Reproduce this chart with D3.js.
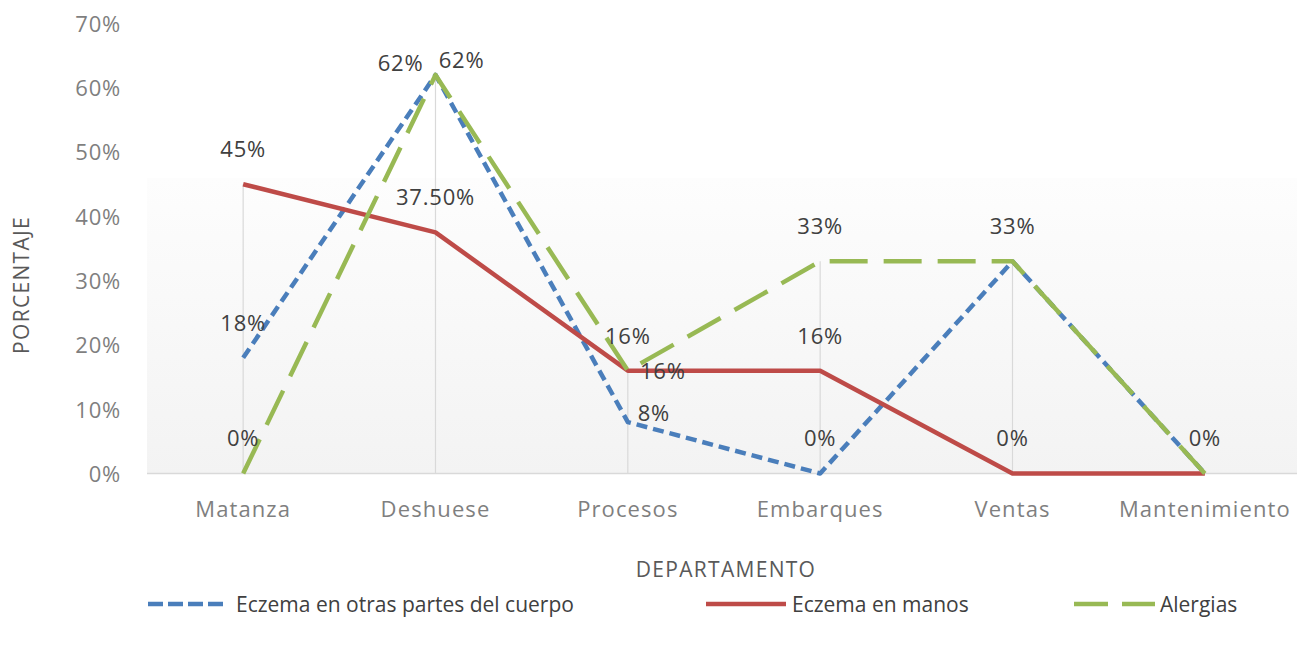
<!DOCTYPE html>
<html>
<head>
<meta charset="utf-8">
<script src="https://cdn.jsdelivr.net/npm/d3@7/dist/d3.min.js"></script>
<style>
  html, body { margin: 0; padding: 0; background: #ffffff; }
  svg { display: block; }
  text { font-family: "Open Sans", sans-serif; }
</style>
</head>
<body>
<svg id="chart" width="1297" height="650"></svg>
<script>
// ---- Data ----
const categories = ["Matanza", "Deshuese", "Procesos", "Embarques", "Ventas", "Mantenimiento"];
const otrasPartes = [18, 62, 8, 0, 33, 0];
const manos = [45, 37.5, 16, 16, 0, 0];
const alergias = [0, 62, 16, 33, 33, 0];
const otrasLabels = ["18%", "62%", "8%", "0%", "33%", "0%"];
const manosLabels = ["45%", "37.50%", "16%", "16%", "0%", "0%"];
const alergiasLabels = ["0%", "62%", "16%", "33%", "33%", "0%"];
const yTicks = [0, 10, 20, 30, 40, 50, 60, 70];
const seriesNames = ["Eczema en otras partes del cuerpo", "Eczema en manos", "Alergias"];

// ---- Styles / layout ----
const W = 1297, H = 650;
const plot = { left: 147, right: 1301, top: 23.5, bottom: 473.5 };
const labelColor = "#404040";

const series = [
  { name: seriesNames[0], values: otrasPartes, labels: otrasLabels, color: "#4a7ebb", dash: "11,6",
    offsets: [null, [-35, -12], [26, -9], null, null, null] },
  { name: seriesNames[1], values: manos, labels: manosLabels, color: "#be4b48", dash: null,
    offsets: [null, null, [35, 0], null, null, null] },
  { name: seriesNames[2], values: alergias, labels: alergiasLabels, color: "#98b954", dash: "38,16",
    offsets: [null, [26, -15], null, null, null, null] }
];

const svg = d3.select("#chart");

const x = d3.scaleBand().domain(categories).range([plot.left, plot.right]).paddingInner(0).paddingOuter(0);
const cx = c => x(c) + x.bandwidth() / 2;
const y = d3.scaleLinear().domain([0, 70]).range([plot.bottom, plot.top]);

// Background gradient
const defs = svg.append("defs");
const grad = defs.append("linearGradient").attr("id", "bg").attr("x1", 0).attr("y1", 0).attr("x2", 0).attr("y2", 1);
grad.append("stop").attr("offset", "0%").attr("stop-color", "#fdfdfd");
grad.append("stop").attr("offset", "100%").attr("stop-color", "#f3f3f3");
svg.append("rect")
  .attr("x", plot.left).attr("y", y(46))
  .attr("width", plot.right - plot.left).attr("height", plot.bottom - y(46))
  .attr("fill", "url(#bg)");

// Drop lines (from highest point to baseline)
categories.forEach((c, i) => {
  const m = Math.max(otrasPartes[i], manos[i], alergias[i]);
  if (m > 0) {
    svg.append("line")
      .attr("x1", cx(c)).attr("x2", cx(c))
      .attr("y1", y(m)).attr("y2", y(0))
      .attr("stroke", "#d9d9d9").attr("stroke-width", 1.2);
  }
});

// Baseline
svg.append("line")
  .attr("x1", plot.left).attr("x2", plot.right)
  .attr("y1", y(0)).attr("y2", y(0))
  .attr("stroke", "#d9d9d9").attr("stroke-width", 1.5);

// Y axis labels
const yAxis = d3.axisLeft(y).tickValues(yTicks).tickFormat(d => d + "%").tickSize(0).tickPadding(0);
const yg = svg.append("g").attr("transform", "translate(121,0)").call(yAxis);
yg.select(".domain").remove();
yg.selectAll("text")
  .attr("font-family", "Open Sans").attr("font-size", 22).attr("fill", "#7f7f7f")
  .attr("letter-spacing", 0.8).attr("dy", "0.36em");

// X axis labels
const xAxis = d3.axisBottom(x).tickSize(0).tickPadding(0);
const xg = svg.append("g").attr("transform", "translate(0,501)").call(xAxis);
xg.select(".domain").remove();
xg.selectAll("text")
  .attr("font-family", "Open Sans").attr("font-size", 22).attr("fill", "#7f7f7f")
  .attr("letter-spacing", 1.1).attr("dy", "0.72em");

// Axis titles
svg.append("text")
  .attr("x", 726).attr("y", 577)
  .attr("text-anchor", "middle")
  .attr("font-size", 21).attr("letter-spacing", 1.3).attr("fill", "#595959")
  .text("DEPARTAMENTO");
svg.append("text")
  .attr("transform", "translate(29,285) rotate(-90)")
  .attr("text-anchor", "middle")
  .attr("font-size", 21).attr("letter-spacing", 1.3).attr("fill", "#595959")
  .text("PORCENTAJE");

// Lines
const line = d3.line().x((d, i) => cx(categories[i])).y(d => y(d));
series.forEach(s => {
  svg.append("path")
    .datum(s.values)
    .attr("d", line)
    .attr("fill", "none")
    .attr("stroke", s.color)
    .attr("stroke-width", 4.5)
    .attr("stroke-linejoin", "round")
    .attr("stroke-dasharray", s.dash);
});

// Data labels (identical labels at the same spot are drawn once)
const drawn = new Set();
series.forEach(s => {
  s.values.forEach((v, i) => {
    const off = s.offsets[i] || [0, -35];
    const lx = cx(categories[i]) + off[0];
    const lyy = y(v) + off[1];
    const key = s.labels[i] + "|" + Math.round(lx) + "|" + Math.round(lyy);
    if (drawn.has(key)) return;
    drawn.add(key);
    svg.append("text")
      .attr("x", lx)
      .attr("y", lyy)
      .attr("dy", "0.36em")
      .attr("text-anchor", "middle")
      .attr("font-size", 22).attr("letter-spacing", 0.8)
      .attr("fill", labelColor)
      .text(s.labels[i]);
  });
});

// Legend
const legendItems = [
  { s: series[0], x0: 148, x1: 228, tx: 236, dash: "15,5" },
  { s: series[1], x0: 706, x1: 786, tx: 792, dash: null },
  { s: series[2], x0: 1074, x1: 1155, tx: 1160, dash: "34,14" }
];
const ly = 604;
legendItems.forEach(it => {
  svg.append("line")
    .attr("x1", it.x0).attr("x2", it.x1).attr("y1", ly).attr("y2", ly)
    .attr("stroke", it.s.color).attr("stroke-width", 4.5)
    .attr("stroke-dasharray", it.dash);
  svg.append("text")
    .attr("x", it.tx).attr("y", ly).attr("dy", "0.36em")
    .attr("font-size", 21).attr("fill", labelColor)
    .text(it.s.name);
});
</script>
</body>
</html>
